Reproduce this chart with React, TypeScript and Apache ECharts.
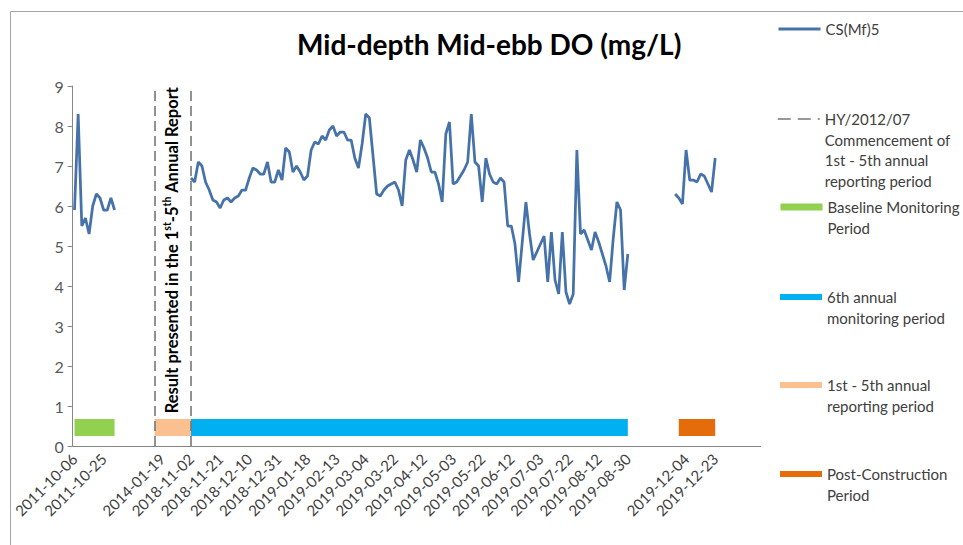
import React, { useEffect, useRef } from 'react';
import * as echarts from 'echarts';

// ---------- data ----------
const tickLabels = [
  '2011-10-06', '2011-10-25', '', '2014-01-19', '2018-11-02', '2018-11-21',
  '2018-12-10', '2018-12-31', '2019-01-18', '2019-02-13', '2019-03-04', '2019-03-22',
  '2019-04-12', '2019-05-03', '2019-05-22', '2019-06-12', '2019-07-03', '2019-07-22',
  '2019-08-12', '2019-08-30', '', '2019-12-04', '2019-12-23', '',
];
const categoryCount = 189;
const samplesPerTick = 8;

const baselineStart = 0;
const baselineDO = [5.9, 8.3, 5.5, 5.7, 5.3, 6.0, 6.3, 6.2, 5.9, 5.9, 6.2, 5.9];

const sixthStart = 32;
const sixthDO = [
  6.7, 6.6, 7.1, 7.0, 6.6, 6.4, 6.15, 6.1, 5.95, 6.15,
  6.2, 6.1, 6.2, 6.25, 6.4, 6.4, 6.7, 6.95, 6.9, 6.8,
  6.8, 7.1, 6.6, 6.6, 6.9, 6.65, 7.45, 7.35, 6.85, 7.0,
  6.85, 6.65, 6.75, 7.4, 7.6, 7.55, 7.75, 7.65, 7.9, 8.0,
  7.75, 7.85, 7.85, 7.65, 7.65, 7.2, 6.95, 7.55, 8.3, 8.2,
  7.25, 6.3, 6.25, 6.4, 6.5, 6.55, 6.6, 6.4, 6.0, 7.15,
  7.4, 7.15, 6.85, 7.65, 7.45, 7.2, 6.85, 6.85, 6.55, 6.1,
  7.8, 8.1, 6.55, 6.6, 6.75, 6.9, 7.1, 8.3, 7.1, 7.0,
  6.1, 7.2, 6.8, 6.6, 6.55, 6.7, 6.6, 5.5, 5.5, 5.05,
  4.1, 5.1, 6.1, 5.3, 4.65, 4.85, 5.05, 5.25, 4.1, 5.35,
  4.15, 3.8, 5.35, 3.85, 3.55, 3.8, 7.4, 5.3, 5.4, 5.15,
  4.9, 5.35, 5.1, 4.8, 4.5, 4.1, 5.2, 6.1, 5.9, 3.9,
  4.8,
];

const postStart = 165;
const postDO = [6.3, 6.2, 6.05, 7.4, 6.65, 6.65, 6.6, 6.8, 6.75, 6.55, 6.35, 7.2];

const periodLevel = 0.46;
const baselinePeriod = [0, 11];
const firstFifthPeriod = [22, 32];
const sixthPeriod = [32, 152];
const postPeriod = [166, 176];
const commencementMarks = [22, 32];

const SERIES_DO = 'CS(Mf)5';
const SERIES_HY = 'HY/2012/07 Commencement of 1st - 5th annual reporting period';
const SERIES_BASE = 'Baseline Monitoring Period';
const SERIES_SIXTH = '6th annual monitoring period';
const SERIES_FIRST = '1st - 5th annual reporting period';
const SERIES_POST = 'Post-Construction Period';

const legendLines: Record<string, string[]> = {
  [SERIES_DO]: ['CS(Mf)5'],
  [SERIES_HY]: ['HY/2012/07', 'Commencement of', '1st - 5th annual', 'reporting period'],
  [SERIES_BASE]: ['Baseline Monitoring', 'Period'],
  [SERIES_SIXTH]: ['6th annual', 'monitoring period'],
  [SERIES_FIRST]: ['1st - 5th annual', 'reporting period'],
  [SERIES_POST]: ['Post-Construction', 'Period'],
};

// ---------- derived ----------
const categories: string[] = [];
for (let i = 0; i < categoryCount; i++) {
  categories.push(i % samplesPerTick === 0 ? tickLabels[i / samplesPerTick] || '' : '');
}

function periodData(range: number[]) {
  const arr: (number | null)[] = new Array(categoryCount).fill(null);
  for (let i = range[0]; i <= range[1]; i++) arr[i] = periodLevel;
  return arr;
}
const doData: (number | null)[] = new Array(categoryCount).fill(null);
const segments: [number, number[]][] = [
  [baselineStart, baselineDO],
  [sixthStart, sixthDO],
  [postStart, postDO],
];
segments.forEach(([s, vals]) => {
  vals.forEach((v, i) => { doData[s + i] = v; });
});

const FONT = 'Lato';
const LH = 20.5;

export default function App() {
  const ref = useRef<HTMLDivElement>(null);
  useEffect(() => {
    if (!ref.current) return;
    const chart = echarts.init(ref.current, null, { renderer: 'svg' });

    const legendLayout = [
      { name: SERIES_DO, y: 29, w: 3 },
      { name: SERIES_HY, y: 119, w: 1.5 },
      { name: SERIES_BASE, y: 207, w: 7 },
      { name: SERIES_SIXTH, y: 297, w: 6 },
      { name: SERIES_FIRST, y: 385, w: 6 },
      { name: SERIES_POST, y: 474, w: 6 },
    ];
    const legends = legendLayout.map((it) => {
      const n = legendLines[it.name].length;
      return {
        orient: 'vertical',
        left: 777,
        top: it.y - ((2 * n - 1) * LH) / 2,
        padding: 0,
        itemGap: 0,
        itemWidth: 42,
        itemHeight: 14,
        selectedMode: false,
        data: [it.name],
        // leading blank lines keep the first text line level with the marker
        formatter: (name: string) => {
          const lines = legendLines[name];
          return ' \n'.repeat(lines.length - 1) + lines.join('\n');
        },
        textStyle: {
          fontFamily: FONT,
          fontSize: 15,
          color: '#404040',
          lineHeight: LH,
        },
        itemStyle: { opacity: 0 },
        lineStyle: { width: it.w },
      };
    });

    const periodSeries = (name: string, range: number[], color: string) => ({
      name,
      type: 'line',
      data: periodData(range),
      symbol: 'none',
      connectNulls: false,
      lineStyle: { color, width: 17, cap: 'butt' },
      itemStyle: { color },
      z: 1,
    });

    chart.setOption({
      animation: false,
      backgroundColor: '#ffffff',
      textStyle: { fontFamily: FONT },
      title: {
        text: 'Mid-depth Mid-ebb DO (mg/L)',
        left: 292,
        top: 25,
        textStyle: { fontFamily: FONT, fontSize: 28, fontWeight: 'bold', color: '#000000' },
      },
      legend: legends,
      grid: { left: 72.7, right: 202.3, top: 86, bottom: 99, containLabel: false },
      xAxis: {
        type: 'category',
        data: categories,
        boundaryGap: true,
        axisLine: { lineStyle: { color: '#868686', width: 1 } },
        axisTick: { interval: samplesPerTick - 1, length: 5, lineStyle: { color: '#868686' } },
        axisLabel: {
          interval: samplesPerTick - 1,
          rotate: 45,
          fontSize: 15,
          color: '#404040',
          margin: 10,
          fontFamily: FONT,
        },
        splitLine: { show: false },
      },
      yAxis: {
        type: 'value',
        min: 0,
        max: 9,
        interval: 1,
        axisLine: { show: true, lineStyle: { color: '#868686', width: 1 } },
        axisTick: { show: true, length: 5, lineStyle: { color: '#868686' } },
        axisLabel: { fontSize: 16, color: '#595959', margin: 9, fontFamily: FONT },
        splitLine: { show: false },
      },
      series: [
        {
          name: SERIES_DO,
          type: 'line',
          data: doData,
          symbol: 'none',
          connectNulls: false,
          lineStyle: { color: '#4672aa', width: 2.75 },
          itemStyle: { color: '#4672aa' },
          z: 3,
        },
        {
          name: SERIES_HY,
          type: 'line',
          data: new Array(categoryCount).fill(null),
          symbol: 'none',
          lineStyle: { color: '#777777', width: 1.5, type: [13, 7] },
          itemStyle: { color: '#777777' },
          markLine: {
            silent: true,
            symbol: ['none', 'none'],
            label: { show: false },
            lineStyle: { color: '#777777', width: 1.6, type: [10, 5] },
            data: commencementMarks.map((c) => ({ xAxis: c })),
          },
        },
        periodSeries(SERIES_BASE, baselinePeriod, '#92d050'),
        periodSeries(SERIES_SIXTH, sixthPeriod, '#00b0f0'),
        periodSeries(SERIES_FIRST, firstFifthPeriod, '#fac090'),
        periodSeries(SERIES_POST, postPeriod, '#e46c0a'),
      ],
      graphic: [
        {
          type: 'rect',
          silent: true,
          z: -10,
          shape: { x: 10.5, y: 11.5, width: 1000, height: 600 },
          style: { fill: 'none', stroke: '#a6a6a6', lineWidth: 1 },
        },
        {
          type: 'text',
          x: 172,
          y: 250,
          z: 20,
          rotation: Math.PI / 2,
          style: {
            text: '{b|Result presented in the 1}{s|st}{b|-5}{s|th}{b| Annual Report}',
            align: 'center',
            verticalAlign: 'middle',
            rich: {
              b: { fontFamily: FONT, fontSize: 16.5, fontWeight: 'bold', color: '#000000', lineHeight: 21 },
              s: { fontFamily: FONT, fontSize: 10.5, fontWeight: 'bold', color: '#000000', lineHeight: 13, verticalAlign: 'top' },
            },
          },
        },
      ],
    });
    return () => chart.dispose();
  }, []);
  return <div ref={ref} style={{ position: 'absolute', left: 0, top: 0, width: 963, height: 545 }} />;
}
